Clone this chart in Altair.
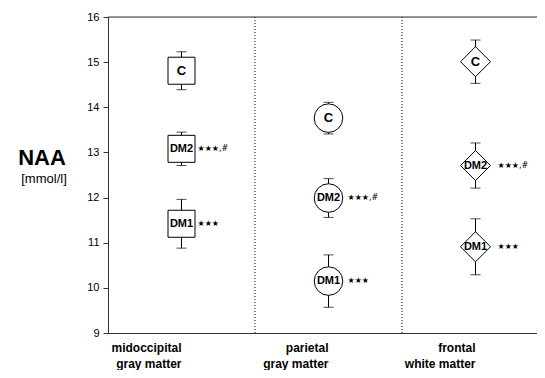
import altair as alt
import pandas as pd

regions = ["midoccipital gray matter", "parietal gray matter", "frontal white matter"]
groups = ["C", "DM2", "DM1"]
means = {
    "midoccipital gray matter": [14.81, 13.08, 11.42],
    "parietal gray matter": [13.76, 11.99, 10.15],
    "frontal white matter": [15.01, 12.71, 10.91],
}
sds = {
    "midoccipital gray matter": [0.42, 0.37, 0.54],
    "parietal gray matter": [0.35, 0.43, 0.58],
    "frontal white matter": [0.48, 0.50, 0.62],
}
signif = ["", "★★★,#", "★★★"]
shapes = ["square", "circle", "diamond"]
sizes = [729, 900, 1369]

rows = []
for r in regions:
    for g, m, s, sg in zip(groups, means[r], sds[r], signif):
        rows.append({"region": r, "group": g, "mean": m, "lo": m - s, "hi": m + s, "sig": sg})
df = pd.DataFrame(rows)

FONT = "Liberation Sans"
BAND_RANGE = 441
xscale = alt.Scale(domain=regions, paddingInner=0, paddingOuter=0, range=[0, BAND_RANGE])
yscale = alt.Scale(domain=[9, 16], nice=False, zero=False)

x_enc = alt.X(
    "region:N",
    scale=xscale,
    sort=regions,
    axis=alt.Axis(
        title=None,
        labelAngle=0,
        ticks=False,
        labelFont=FONT,
        labelFontSize=12,
        labelFontWeight="bold",
        labelColor="black",
        labelPadding=14,
        labelLineHeight=16,
        domainColor="#333333",
        labelExpr="[slice(datum.label, 0, indexof(datum.label, ' ')), slice(datum.label, indexof(datum.label, ' ') + 1)]",
    ),
)
y_enc = alt.Y(
    "mean:Q",
    scale=yscale,
    axis=alt.Axis(
        title=None,
        values=[9, 10, 11, 12, 13, 14, 15, 16],
        grid=False,
        tickSize=5,
        tickColor="#333333",
        domainColor="#333333",
        labelFont=FONT,
        labelFontSize=11,
        labelColor="black",
        labelPadding=4,
    ),
)

base = alt.Chart(df)

whisker = base.mark_rule(color="black", strokeWidth=1).encode(
    x=x_enc, y=alt.Y("lo:Q", scale=yscale), y2="hi:Q"
)
cap_lo = base.mark_tick(color="black", orient="horizontal", size=10, thickness=1).encode(
    x=x_enc, y=alt.Y("lo:Q", scale=yscale)
)
cap_hi = base.mark_tick(color="black", orient="horizontal", size=10, thickness=1).encode(
    x=x_enc, y=alt.Y("hi:Q", scale=yscale)
)
points = base.mark_point(filled=False, fill="white", fillOpacity=1, stroke="black", strokeWidth=1, opacity=1).encode(
    x=x_enc,
    y=y_enc,
    shape=alt.Shape("region:N", scale=alt.Scale(domain=regions, range=shapes), legend=None),
    size=alt.Size("region:N", scale=alt.Scale(domain=regions, range=sizes), legend=None),
)
lab_c = base.transform_filter(alt.datum.group == "C").mark_text(
    font=FONT, fontSize=13, fontWeight="bold", color="black", baseline="middle"
).encode(x=x_enc, y=y_enc, text="group:N")
lab_dm = base.transform_filter(alt.datum.group != "C").mark_text(
    font=FONT, fontSize=11, fontWeight="bold", color="black", baseline="middle"
).encode(x=x_enc, y=y_enc, text="group:N")

sig_layers = []
for r, dx in zip(regions, [16, 19, 22]):
    sig_layers.append(
        base.transform_filter(alt.datum.region == r).mark_text(
            font="DejaVu Sans", fontSize=8, color="black", align="left", baseline="middle", dx=dx
        ).encode(x=x_enc, y=y_enc, text="sig:N")
    )

dividers = alt.Chart(pd.DataFrame({"region": regions[1:]})).mark_rule(
    color="black", strokeDash=[1, 2], strokeWidth=1
).encode(x=alt.X("region:N", scale=xscale, sort=regions, bandPosition=0))

top = alt.Chart(pd.DataFrame({"v": [16]})).mark_rule(color="#333333", strokeWidth=1).encode(
    y=alt.Y("v:Q", scale=yscale), x=alt.value(0), x2=alt.value(BAND_RANGE)
)

naa = alt.Chart(pd.DataFrame({"t": ["NAA"]})).mark_text(
    font=FONT, fontSize=22, fontWeight="bold", color="black", baseline="middle"
).encode(text="t:N", x=alt.value(-66), y=alt.value(141))
unit = alt.Chart(pd.DataFrame({"t": ["[mmol/l]"]})).mark_text(
    font=FONT, fontSize=13, color="black", baseline="middle"
).encode(text="t:N", x=alt.value(-64), y=alt.value(162))

chart = alt.layer(
    dividers, top, whisker, cap_lo, cap_hi, points, lab_c, lab_dm, *sig_layers, naa, unit
).properties(
    width=429,
    height=316,
    autosize=alt.AutoSizeParams(type="none"),
    padding={"left": 100, "top": 9, "right": 0, "bottom": 37},
).configure_view(stroke=None).configure(background="white")

chart.save("out.html", embed_options={"renderer": "svg", "actions": False})
